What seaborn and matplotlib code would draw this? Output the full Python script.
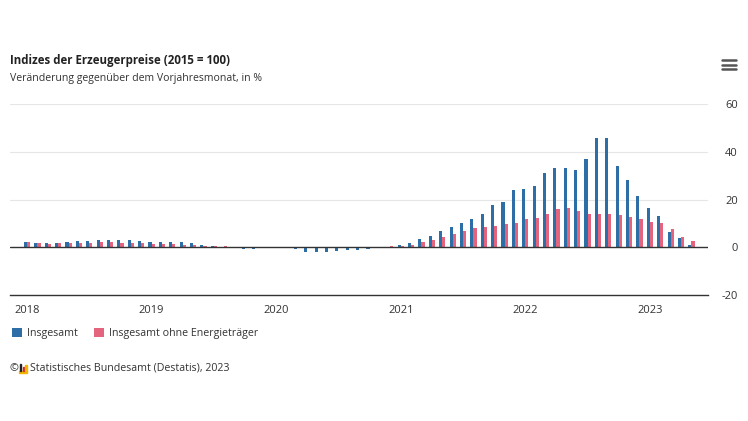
import numpy as np
import pandas as pd
import matplotlib.pyplot as plt
import seaborn as sns
from matplotlib.patches import Rectangle

# === Data (Veränderung gegenüber Vorjahresmonat, %) ===
months = pd.date_range("2018-01-01", "2023-05-01", freq="MS").strftime("%Y-%m").tolist()

insgesamt = [
    2.1, 1.7, 1.6, 1.8, 2.2, 2.5, 2.5, 2.9, 2.9, 3.2, 3.2, 2.5,   # 2018
    2.4, 2.4, 2.1, 2.1, 1.7, 0.8, 0.6, 0.3, -0.1, -0.6, -0.7, -0.2,  # 2019
    0.2, -0.1, -0.8, -2.0, -2.1, -1.8, -1.7, -1.2, -1.0, -0.7, -0.5, 0.2,  # 2020
    0.9, 1.6, 3.4, 4.8, 6.9, 8.3, 10.0, 11.8, 13.8, 17.9, 19.0, 23.8,  # 2021
    24.5, 25.5, 31.0, 33.0, 33.0, 32.4, 37.0, 45.8, 45.8, 34.2, 28.0, 21.3,  # 2022
    16.3, 13.0, 6.2, 3.7, 1.0,  # 2023
]
ohne_energie = [
    2.0, 1.6, 1.5, 1.6, 1.8, 1.9, 1.9, 2.0, 2.0, 1.8, 1.7, 1.7,   # 2018
    1.5, 1.4, 1.2, 1.1, 0.9, 0.7, 0.5, 0.4, 0.3, 0.2, 0.1, 0.1,   # 2019
    0.1, 0.1, 0.1, -0.1, -0.3, -0.4, -0.3, -0.2, 0.0, 0.2, 0.3, 0.6,  # 2020
    0.7, 0.9, 2.1, 2.9, 4.5, 5.6, 6.9, 8.0, 8.3, 9.0, 9.7, 10.0,  # 2021
    11.8, 12.2, 13.9, 16.0, 16.4, 15.1, 14.1, 13.9, 13.9, 13.4, 12.5, 11.8,  # 2022
    10.4, 10.0, 7.6, 4.4, 2.8,  # 2023
]
series = ["Insgesamt", "Insgesamt ohne Energieträger"]
colors = ["#2d6ea6", "#e4647e"]
years = ["2018", "2019", "2020", "2021", "2022", "2023"]
y_ticks = [-20, 0, 20, 40, 60]

df = pd.DataFrame({
    "Monat": months * 2,
    "Reihe": [series[0]] * len(months) + [series[1]] * len(months),
    "Wert": insgesamt + ohne_energie,
})

# === Figure ===
sns.set_style("white")
plt.rcParams["font.family"] = ["Open Sans", "DejaVu Sans"]
fig = plt.figure(figsize=(7.48, 4.21), dpi=100)
ax = fig.add_axes([10 / 748, 1 - 295 / 421, 698 / 748, 191 / 421])

sns.barplot(data=df, x="Monat", y="Wert", hue="Reihe", order=months, hue_order=series,
            palette=dict(zip(series, colors)), saturation=1, width=0.6, linewidth=0,
            ax=ax)

ax.set_xlim(-1.64, 65.6)
ax.set_ylim(-20, 60)
ax.set_xlabel("")
ax.set_ylabel("")

# y axis on the right, labels right aligned
ax.yaxis.tick_right()
ax.set_yticks(y_ticks)
ax.set_yticklabels([str(v) for v in y_ticks])
ax.tick_params(axis="y", length=0, pad=21.5, labelsize=8, labelcolor="#333333")
for lab in ax.get_yticklabels():
    lab.set_ha("right")
for v in y_ticks[2:]:
    ax.axhline(v, color="#e6e6e6", lw=0.8, zorder=0)
ax.axhline(0, color="#333333", lw=1.0, zorder=3)

# x axis: year labels, monthly minor ticks
year_pos = [months.index(y + "-01") for y in years]
ax.set_xticks(year_pos)
ax.set_xticklabels(years)
ax.set_xticks(np.arange(-1, 66), minor=True)
ax.tick_params(axis="x", which="major", length=4.5, width=0.9, color="#333333",
               labelsize=8, labelcolor="#333333", pad=3)
ax.tick_params(axis="x", which="minor", length=3.0, width=0.8, color="#666666")

for s in ["top", "left", "right"]:
    ax.spines[s].set_visible(False)
ax.spines["bottom"].set_color("#333333")
ax.spines["bottom"].set_linewidth(1.0)

# legend
h, l = ax.get_legend_handles_labels()
ax.legend(h, l, loc="upper left", bbox_to_anchor=(12 / 748, 1 - 328 / 421),
          bbox_transform=fig.transFigure, ncol=2, frameon=False, fontsize=7.7,
          handlelength=0.9, handleheight=0.9, handletextpad=0.5,
          columnspacing=1.55, borderaxespad=0, borderpad=0,
          labelcolor="#333333")

# titles
fig.text(10 / 748, 1 - 60.5 / 421, "Indizes der Erzeugerpreise (2015 = 100)",
         fontsize=8.3, fontweight="bold", color="#222222", va="center")
fig.text(10 / 748, 1 - 79 / 421, "Veränderung gegenüber dem Vorjahresmonat, in %",
         fontsize=7.55, color="#333333", va="center")

# menu icon
for yy in [60, 64.5, 69]:
    fig.add_artist(plt.Line2D([722 / 748, 736 / 748], [1 - yy / 421] * 2,
                              color="#555555", lw=1.8))

# source line
fig.text(10 / 748, 1 - 368.5 / 421, "©", fontsize=7.7, color="#333333", va="center")
fig.add_artist(Rectangle((19 / 748, 1 - 372.5 / 421), 8 / 748, 1.3 / 421,
                         color="#f2b600", transform=fig.transFigure))
fig.add_artist(Rectangle((20 / 748, 1 - 371.2 / 421), 1.4 / 748, 7 / 421,
                         color="#222222", transform=fig.transFigure))
fig.add_artist(Rectangle((22.6 / 748, 1 - 371.2 / 421), 1.4 / 748, 4 / 421,
                         color="#d9232e", transform=fig.transFigure))
fig.add_artist(Rectangle((25.2 / 748, 1 - 371.2 / 421), 1.4 / 748, 6 / 421,
                         color="#f2b600", transform=fig.transFigure))
fig.text(30 / 748, 1 - 368.5 / 421, "Statistisches Bundesamt (Destatis), 2023",
         fontsize=7.7, color="#333333", va="center")

fig.savefig("out.png", dpi=100)
